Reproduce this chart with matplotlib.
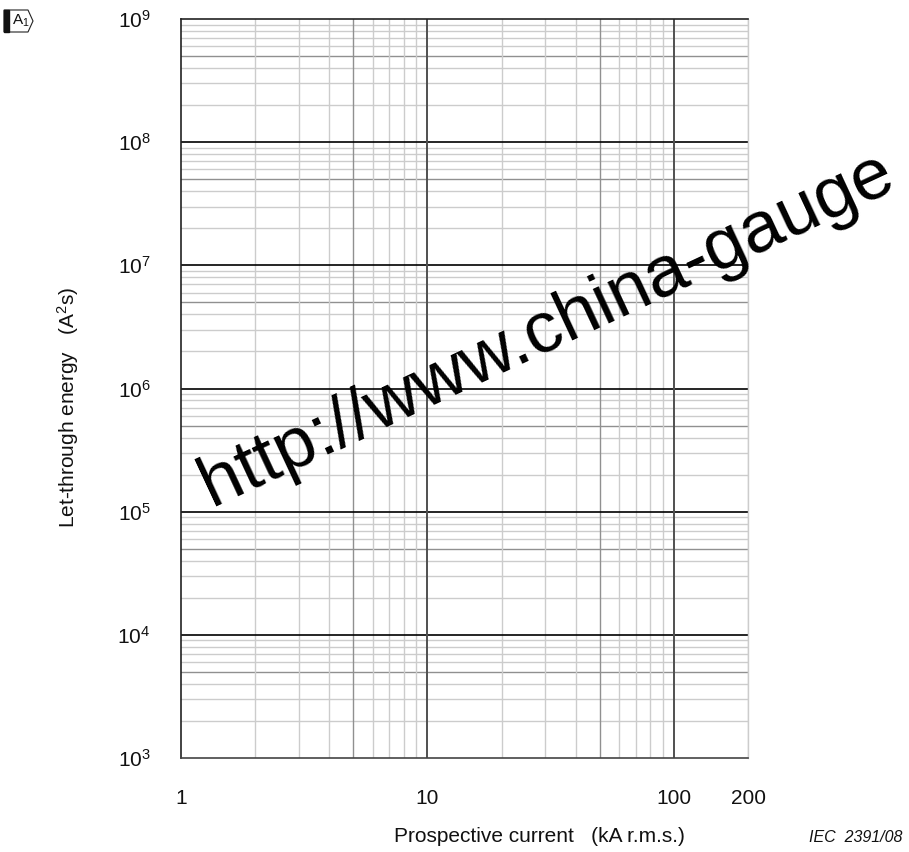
# coding: UTF-8

import numpy as np
import matplotlib
matplotlib.use('Agg')
import matplotlib.pyplot as plt
from matplotlib.patches import Polygon, Rectangle

font = {'family': 'Liberation Sans'}
matplotlib.rc('font', **font)
plt.rcParams['mathtext.fontset'] = 'custom'
plt.rcParams['mathtext.rm'] = 'Liberation Sans'
plt.rcParams['mathtext.it'] = 'Liberation Sans:italic'

# ---- chart values ----
x_min, x_max = 1, 200
x_ticks = [1, 10, 100, 200]
x_tick_labels = ['1', '10', '100', '200']
y_exponents = [3, 4, 5, 6, 7, 8, 9]
y_tick_labels = ['$10^{%d}$' % e for e in y_exponents]
minor_factors = [2, 3, 4, 5, 6, 7, 8, 9]
x_decades = [1, 10, 100]

x_label = 'Prospective current   (kA r.m.s.)'
y_label = 'Let-through energy   (A$^2$s)'
watermark = 'http://www.china-gauge'
fig_code = 'IEC  2391/08'

W, H = 909, 852
fig = plt.figure(figsize=(W / 100, H / 100), dpi=100)
ax = fig.add_axes([181 / W, 1 - 758 / H, (748 - 181) / W, (758 - 19) / H])
ax.set_xscale('log')
ax.set_yscale('log')
ax.set_xlim(x_min, x_max)
ax.set_ylim(10 ** y_exponents[0], 10 ** y_exponents[-1])

light = '#cccccc'
mid = '#909090'

#---horizontal grid----
for e in y_exponents[:-1]:
    for f in minor_factors:
        ax.axhline(f * 10 ** e, color=mid if f == 5 else light, lw=1.0, zorder=1)
for e in y_exponents[1:-1]:
    ax.axhline(10 ** e, color='black', lw=1.2, zorder=2)

#---vertical grid----
for d in x_decades:
    for f in minor_factors:
        v = f * d
        if v > x_max:
            continue
        ax.axvline(v, color=mid if f == 5 else light, lw=1.0, zorder=1)
for d in x_decades[1:]:
    ax.axvline(d, color='#505050', lw=1.4, zorder=2)

ax.set_xticks(x_ticks)
ax.set_xticklabels(x_tick_labels)
ax.set_yticks([10 ** e for e in y_exponents])
ax.set_yticklabels(y_tick_labels)
ax.minorticks_off()
ax.tick_params(axis='both', length=0, labelsize=15, colors='#111111')
ax.tick_params(axis='x', pad=22)
ax.tick_params(axis='y', pad=22)

for s in ['left', 'top']:
    ax.spines[s].set_color('#222222')
    ax.spines[s].set_linewidth(1.2)
ax.spines['bottom'].set_color('#444444')
ax.spines['bottom'].set_linewidth(1.2)
ax.spines['right'].set_color(light)
ax.spines['right'].set_linewidth(1.0)

fig.text(539 / W, 1 - 837 / H, x_label, ha='center', va='center', fontsize=15, color='#111111')
fig.text(68 / W, 1 - 407 / H, y_label, ha='center', va='center', rotation=90, fontsize=15, color='#111111')
fig.text(902 / W, 1 - 838 / H, fig_code, ha='right', va='center', fontsize=11.5, style='italic', color='#111111')

# watermark
fig.text(212 / W, 1 - 506 / H, watermark, rotation=25, rotation_mode='anchor',
         ha='left', va='baseline', fontsize=52.5, color='black', zorder=10)

# A1 marker at top left
px = lambda x, y: (x / W, 1 - y / H)
fig.patches.append(Polygon([px(4, 10), px(28, 10), px(33, 21), px(28, 32), px(4, 32)],
                           closed=True, fill=False, edgecolor='#222222', lw=0.8,
                           transform=fig.transFigure, figure=fig))
fig.patches.append(Rectangle(px(4, 32), 5 / W, 22 / H, color='#111111',
                             transform=fig.transFigure, figure=fig))
fig.text(12 / W, 1 - 21 / H, 'A$_1$', ha='left', va='center', fontsize=11, color='#111111')

fig.savefig('out.png', dpi=100)
